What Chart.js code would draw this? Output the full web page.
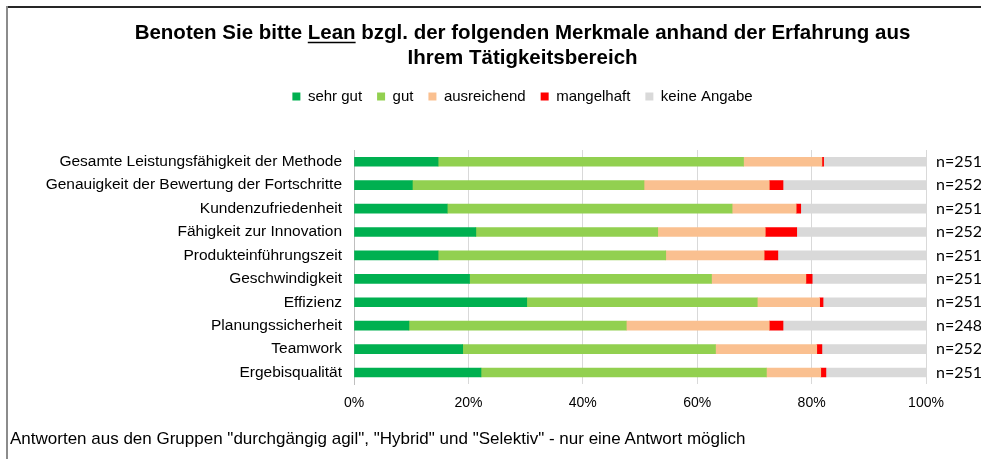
<!DOCTYPE html>
<html>
<head>
<meta charset="utf-8">
<script src="https://cdn.jsdelivr.net/npm/chart.js@4/dist/chart.umd.min.js"></script>
<style>
  html, body { margin: 0; padding: 0; background: #fff; overflow: hidden; }
  #wrap { position: relative; width: 981px; height: 459px; overflow: hidden; }
  #c { position: absolute; left: 0; top: 0; }
  .bt { position: absolute; left: 6px; top: 6px; width: 975px; height: 2px; background: #262626; }
  .bl { position: absolute; left: 6px; top: 6px; width: 2px; height: 453px; background: #8c8c8c; }
  #foot { position: absolute; left: 10px; top: 429px; font: 17px "Liberation Sans", Arial, sans-serif; color: #000; line-height: 20px; white-space: nowrap; }
</style>
</head>
<body>
<div id="wrap">
  <canvas id="c" width="1005" height="459"></canvas>
  <div class="bt"></div>
  <div class="bl"></div>
  <div id="foot">Antworten aus den Gruppen "durchgängig agil", "Hybrid" und "Selektiv" - nur eine Antwort möglich</div>
</div>
<script>
const categories = [
  "Gesamte Leistungsfähigkeit der Methode",
  "Genauigkeit der Bewertung der Fortschritte",
  "Kundenzufriedenheit",
  "Fähigkeit zur Innovation",
  "Produkteinführungszeit",
  "Geschwindigkeit",
  "Effizienz",
  "Planungssicherheit",
  "Teamwork",
  "Ergebisqualität"
];
const nLabels = ["n=251", "n=252", "n=251", "n=252", "n=251", "n=251", "n=251", "n=248", "n=252", "n=251"];
const seriesNames = ["sehr gut", "gut", "ausreichend", "mangelhaft", "keine Angabe"];
const sehrGut     = [14.7, 10.2, 16.3, 21.3, 14.7, 20.2, 30.2,  9.6, 19.0, 22.2];
const gut         = [53.4, 40.5, 49.8, 31.8, 39.8, 42.3, 40.3, 38.0, 44.2, 49.9];
const ausreichend = [13.7, 21.9, 11.2, 18.8, 17.2, 16.5, 10.9, 25.0, 17.7,  9.5];
const mangelhaft  = [ 0.3,  2.4,  0.8,  5.5,  2.4,  1.1,  0.6,  2.4,  0.9,  0.9];
const keineAngabe = [18.0, 25.0, 21.9, 22.6, 25.9, 19.9, 18.0, 25.0, 18.2, 17.5];
const xTicks = [0, 20, 40, 60, 80, 100];
const titleLines = ["Benoten Sie bitte Lean bzgl. der folgenden Merkmale anhand der Erfahrung aus", "Ihrem Tätigkeitsbereich"];

const colors = ["#00b050", "#92d050", "#fac090", "#ff0000", "#d9d9d9"];
const FONT = '"Liberation Sans", Arial, sans-serif';
const TITLE_SIZE = 20.5;
const TITLE_LH = 25;
const PAD_LEFT = 40;

const underlinePlugin = {
  id: 'underlineLean',
  afterDraw(chart) {
    const tb = chart.titleBlock;
    if (!tb) return;
    const ctx = chart.ctx;
    ctx.save();
    ctx.font = 'bold ' + TITLE_SIZE + 'px ' + FONT;
    const line = titleLines[0];
    const w = ctx.measureText(line).width;
    const cx = (tb.left + tb.right) / 2;
    const x0 = cx - w / 2 + ctx.measureText("Benoten Sie bitte ").width;
    const wl = ctx.measureText("Lean").width;
    const y = tb.top + tb.options.padding.top + TITLE_LH / 2 + 9;
    ctx.strokeStyle = '#000';
    ctx.lineWidth = 1.6;
    ctx.beginPath();
    ctx.moveTo(x0, y);
    ctx.lineTo(x0 + wl, y);
    ctx.stroke();
    ctx.restore();
  }
};

new Chart(document.getElementById('c'), {
  type: 'bar',
  data: {
    labels: categories,
    datasets: [sehrGut, gut, ausreichend, mangelhaft, keineAngabe].map((d, i) => ({
      label: seriesNames[i],
      data: d,
      backgroundColor: colors[i],
      borderWidth: 0,
      barThickness: 9,
      xAxisID: 'x',
      yAxisID: 'y'
    }))
  },
  options: {
    indexAxis: 'y',
    responsive: false,
    animation: false,
    layout: { padding: { left: PAD_LEFT, right: 0, top: 7, bottom: 36 } },
    plugins: {
      tooltip: { enabled: false },
      title: {
        display: true,
        text: titleLines,
        color: '#000',
        font: { family: FONT, size: TITLE_SIZE, weight: 'bold', lineHeight: TITLE_LH / TITLE_SIZE },
        padding: { top: 14, bottom: 3 }
      },
      legend: {
        display: true,
        position: 'top',
        labels: {
          color: '#000',
          font: { family: FONT, size: 15 },
          boxWidth: 8,
          boxHeight: 8,
          padding: 15
        }
      }
    },
    scales: {
      x: {
        type: 'linear',
        stacked: true,
        min: 0,
        max: 100,
        afterBuildTicks: s => { s.ticks = xTicks.map(v => ({ value: v })); },
        ticks: {
          color: '#000',
          font: { family: FONT, size: 14 },
          padding: 11,
          callback: v => v + '%'
        },
        grid: { color: '#d9d9d9', lineWidth: 1, drawTicks: false },
        border: { display: false }
      },
      x2: {
        type: 'linear',
        position: 'top',
        min: 0, max: 100,
        display: true,
        ticks: { display: false },
        grid: { display: false, drawTicks: false },
        border: { display: false },
        afterFit: s => { s.height = 36; }
      },
      y: {
        type: 'category',
        stacked: true,
        position: 'left',
        ticks: {
          color: '#000',
          font: { family: FONT, size: 15.5 },
          padding: 12,
          autoSkip: false
        },
        grid: { display: false, drawTicks: false },
        border: { display: true, color: '#bfbfbf', width: 1 },
        afterFit: s => { s.width = 354 - PAD_LEFT; }
      },
      y2: {
        type: 'category',
        position: 'right',
        labels: nLabels,
        offset: true,
        ticks: {
          color: '#000',
          font: { family: 'Lato, "Open Sans", sans-serif', size: 16 },
          padding: 10,
          autoSkip: false
        },
        grid: { display: false, drawTicks: false },
        border: { display: false },
        afterFit: s => { s.width = 1005 - 926; }
      }
    }
  },
  plugins: [underlinePlugin]
});
</script>
</body>
</html>
